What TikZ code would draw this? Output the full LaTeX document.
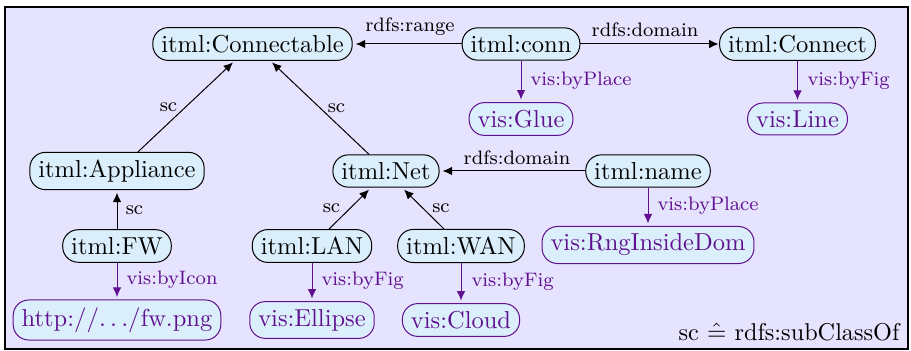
\documentclass[tikz,border=0pt]{standalone}
\usetikzlibrary{arrows.meta,calc}
\definecolor{bgc}{HTML}{E5E3FD}
\definecolor{nodec}{HTML}{DBEEFB}
\definecolor{visc}{HTML}{5F0F8F}
\tikzset{
  x=0.4pt,y=-0.4pt,
  itmlnode/.style={draw=black,fill=nodec,rounded corners=6.2pt,inner xsep=3.4pt,inner ysep=3pt,line width=0.4pt,text=black,font=\fontsize{9.8}{11.8}\selectfont},
  visnode/.style={itmlnode,draw=visc,text=visc},
  rel/.style={-{Latex[length=3.8pt,width=3.4pt]},line width=0.4pt,black},
  visrel/.style={rel,visc},
  lab/.style={font=\fontsize{7.8}{9.4}\selectfont,inner sep=0pt,text=black},
  vislab/.style={lab,anchor=west,text=visc}
}
\begin{document}
\begin{tikzpicture}
\useasboundingbox (0,0) rectangle (911,351);
\draw[fill=bgc,line width=0.8pt] (5,7) rectangle (908,349);
\node[itmlnode] (connectable) at (252.5,44) {itml:Connectable};
\node[itmlnode] (conn) at (521,44) {itml:conn};
\node[itmlnode] (connect) at (797.5,44) {itml:Connect};
\node[visnode] (glue) at (521,119) {vis:Glue};
\node[visnode] (line) at (797.5,119) {vis:Line};
\node[itmlnode] (appliance) at (117,171) {itml:Appliance};
\node[itmlnode] (net) at (386,171) {itml:Net};
\node[itmlnode] (name) at (648,171) {itml:name};
\node[itmlnode] (fw) at (117,246) {itml:FW};
\node[itmlnode] (lan) at (312,246) {itml:LAN};
\node[itmlnode] (wan) at (461,246) {itml:WAN};
\node[visnode] (http) at (117,320) {http:$//\!\ldots\!/$fw.png};
\node[visnode] (ellipse) at (312,320) {vis:Ellipse};
\node[visnode] (cloud) at (461,320) {vis:Cloud};
\node[visnode] (rng) at (648,245) {vis:RngInsideDom};

\draw[rel] (conn.west) -- ([xshift=1.2pt]connectable.east);
\draw[rel] (conn.east) -- ([xshift=-0.2pt]connect.west);
\draw[rel] (name.west) -- ([xshift=1.2pt]net.east);
\draw[rel] ([xshift=8.4pt]appliance.north) -- ([xshift=-7.8pt,yshift=-0.6pt]connectable.south);
\draw[rel] ([xshift=-6.8pt]net.north) -- ([xshift=7.8pt,yshift=-0.6pt]connectable.south);
\draw[rel] (fw.north) -- ([yshift=-1pt]appliance.south);
\draw[rel] ([xshift=6.8pt]lan.north) -- ([xshift=-6.8pt,yshift=-0.8pt]net.south);
\draw[rel] ([xshift=-6.8pt]wan.north) -- ([xshift=7.2pt,yshift=-0.8pt]net.south);
\draw[visrel] (conn.south) -- ([yshift=1pt]glue.north);
\draw[visrel] (connect.south) -- ([yshift=1pt]line.north);
\draw[visrel] (name.south) -- ([yshift=1pt]rng.north);
\draw[visrel] (fw.south) -- ([yshift=1pt]http.north);
\draw[visrel] (lan.south) -- ([yshift=1pt]ellipse.north);
\draw[visrel] (wan.south) -- ([yshift=1pt]cloud.north);

\node[lab] (l1) at (410,27) {rdfs:range};
\node[lab] (l2) at (645,30) {rdfs:domain};
\node[lab] (l3) at (517,158) {rdfs:domain};
\node[lab] (l4) at (168.5,107) {sc};
\node[lab] (l5) at (336.5,108) {sc};
\node[lab] (l6) at (134.5,210) {sc};
\node[lab] (l7) at (331.5,208) {sc};
\node[lab] (l8) at (441,208) {sc};
\node[vislab] (l9) at (530,81) {vis:byPlace};
\node[vislab] (l10) at (807,81) {vis:byFig};
\node[vislab] (l11) at (126,280) {vis:byIcon};
\node[vislab] (l12) at (321,281) {vis:byFig};
\node[vislab] (l13) at (471,282) {vis:byFig};
\node[vislab] (l14) at (657,206) {vis:byPlace};
\node[anchor=base east,inner sep=0pt,font=\fontsize{9.7}{11.6}\selectfont] (legend) at (900,341) {sc $\hat{=}$ rdfs:subClassOf};
\end{tikzpicture}
\end{document}
